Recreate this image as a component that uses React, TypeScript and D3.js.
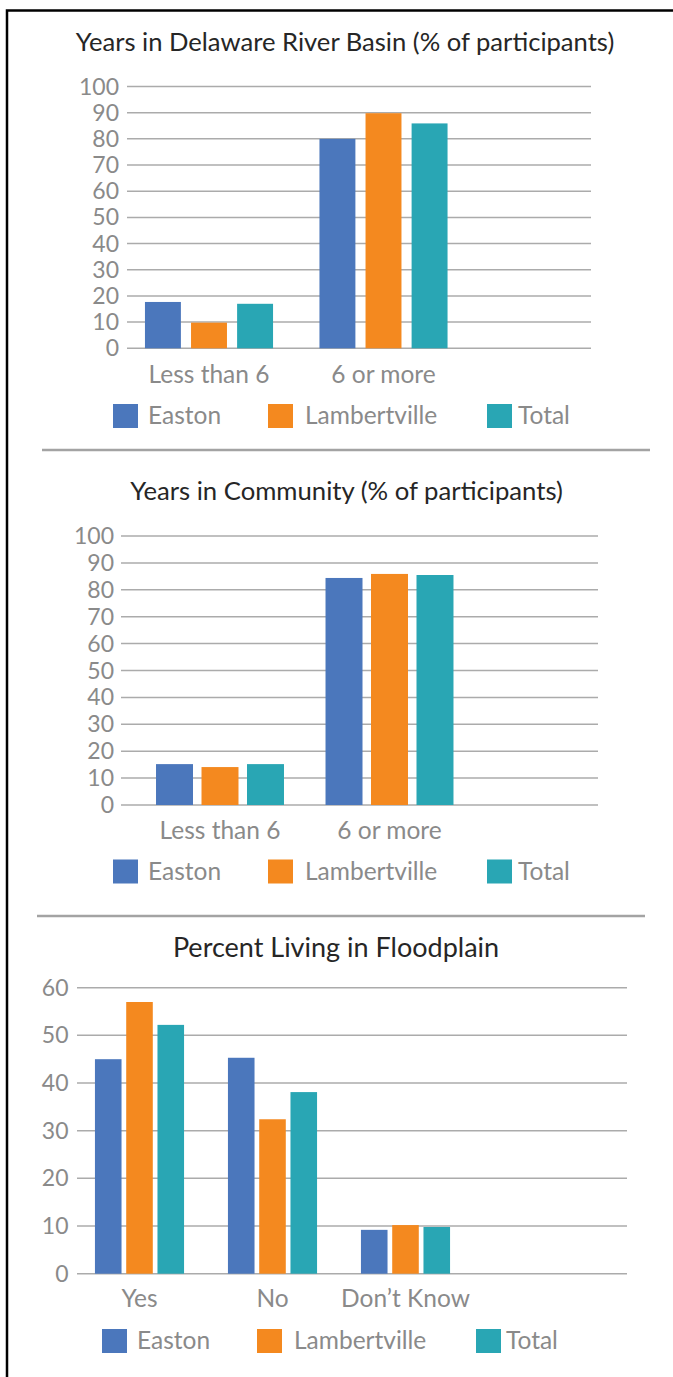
import React from "react";
import * as d3 from "d3";

const seriesNames = ["Easton", "Lambertville", "Total"];
const seriesColors = ["#4B77BC", "#F4891F", "#29A6B4"];

const basinTitle = "Years in Delaware River Basin (% of participants)";
const basinCategories = ["Less than 6", "6 or more"];
const basinEaston = [17.7, 80.0];
const basinLambertville = [9.8, 89.8];
const basinTotal = [17.0, 85.9];
const basinTicks = [0, 10, 20, 30, 40, 50, 60, 70, 80, 90, 100];

const communityTitle = "Years in Community (% of participants)";
const communityCategories = ["Less than 6", "6 or more"];
const communityEaston = [15.2, 84.4];
const communityLambertville = [14.1, 85.9];
const communityTotal = [15.2, 85.5];
const communityTicks = [0, 10, 20, 30, 40, 50, 60, 70, 80, 90, 100];

const floodTitle = "Percent Living in Floodplain";
const floodCategories = ["Yes", "No", "Don\u2019t Know"];
const floodEaston = [45.0, 45.3, 9.2];
const floodLambertville = [57.0, 32.4, 10.2];
const floodTotal = [52.2, 38.1, 9.8];
const floodTicks = [0, 10, 20, 30, 40, 50, 60];

const FONT = "Lato, 'Open Sans', sans-serif";
const GRAY = "#8a8a8a";
const GRID = "#ababab";

type Layout = {
  titleX: number;
  titleY: number;
  titleSize: number;
  yTop: number;
  yZero: number;
  gridX0: number;
  gridX1: number;
  tickRight: number;
  bandRange: [number, number];
  groupPad: number;
  barPad: number;
  labelY: number;
  legendY: number;
  legendX: number[];
  legendTextDx: number[];
};

function BarChart(props: {
  title: string;
  categories: string[];
  series: number[][];
  ticks: number[];
  layout: Layout;
}) {
  const { title, categories, series, ticks, layout: L } = props;
  const yMax = d3.max(ticks) as number;
  const y = d3.scaleLinear().domain([0, yMax]).range([L.yZero, L.yTop]);
  const x0 = d3
    .scaleBand<string>()
    .domain(categories)
    .range(L.bandRange)
    .paddingInner(L.groupPad)
    .paddingOuter(L.groupPad / 2);
  const x1 = d3
    .scaleBand<string>()
    .domain(seriesNames)
    .range([0, x0.bandwidth()])
    .paddingInner(L.barPad);

  return (
    <g>
      <text
        x={L.titleX}
        y={L.titleY}
        textAnchor="middle"
        fontFamily={FONT}
        fontSize={L.titleSize}
        fill="#262626"
      >
        {title}
      </text>
      {ticks.map((t) => (
        <g key={t}>
          <line
            x1={L.gridX0}
            x2={L.gridX1}
            y1={y(t)}
            y2={y(t)}
            stroke={GRID}
            strokeWidth={1.5}
          />
          <text
            x={L.tickRight}
            y={y(t) + 8}
            textAnchor="end"
            fontFamily={FONT}
            fontSize={23}
            fill={GRAY}
          >
            {t}
          </text>
        </g>
      ))}
      {categories.map((c, ci) => (
        <g key={c} transform={`translate(${x0(c)},0)`}>
          {seriesNames.map((s, si) => (
            <rect
              key={s}
              x={x1(s)}
              y={y(series[si][ci])}
              width={x1.bandwidth()}
              height={L.yZero - y(series[si][ci])}
              fill={seriesColors[si]}
            />
          ))}
        </g>
      ))}
      {categories.map((c) => (
        <text
          key={c}
          x={(x0(c) as number) + x0.bandwidth() / 2}
          y={L.labelY}
          textAnchor="middle"
          fontFamily={FONT}
          fontSize={24.5}
          fill={GRAY}
        >
          {c}
        </text>
      ))}
      {seriesNames.map((s, si) => (
        <g key={s}>
          <rect
            x={L.legendX[si]}
            y={L.legendY}
            width={25}
            height={24}
            fill={seriesColors[si]}
          />
          <text
            x={L.legendX[si] + L.legendTextDx[si]}
            y={L.legendY + 20}
            fontFamily={FONT}
            fontSize={24.5}
            fill={GRAY}
          >
            {s}
          </text>
        </g>
      ))}
    </g>
  );
}

const basinLayout: Layout = {
  titleX: 345,
  titleY: 51,
  titleSize: 25.6,
  yTop: 86.5,
  yZero: 348.3,
  gridX0: 127,
  gridX1: 591,
  tickRight: 119,
  bandRange: [121.75, 470.75],
  groupPad: 0.266,
  barPad: 0.22,
  labelY: 383,
  legendY: 404,
  legendX: [113, 268, 487],
  legendTextDx: [35, 37, 31],
};

const communityLayout: Layout = {
  titleX: 346.5,
  titleY: 500,
  titleSize: 25.7,
  yTop: 536,
  yZero: 805,
  gridX0: 121,
  gridX1: 598,
  tickRight: 114,
  bandRange: [135.25, 474.25],
  groupPad: 0.245,
  barPad: 0.187,
  labelY: 839,
  legendY: 859.5,
  legendX: [113, 268, 487],
  legendTextDx: [35, 37, 31],
};

const floodLayout: Layout = {
  titleX: 336,
  titleY: 957,
  titleSize: 27,
  yTop: 987.7,
  yZero: 1273.7,
  gridX0: 77,
  gridX1: 627,
  tickRight: 68.5,
  bandRange: [73, 472],
  groupPad: 0.33,
  barPad: 0.15,
  labelY: 1307,
  legendY: 1329,
  legendX: [102, 257, 476],
  legendTextDx: [35, 37, 30],
};

export default function App() {
  return (
    <svg
      width={673}
      height={1377}
      style={{ position: "absolute", left: 0, top: 0, background: "#fff" }}
    >
      <rect x={0} y={0} width={673} height={1377} fill="#fff" />
      <rect
        x={7}
        y={10.5}
        width={720}
        height={1420}
        fill="none"
        stroke="#000"
        strokeWidth={2.5}
      />
      <BarChart
        title={basinTitle}
        categories={basinCategories}
        series={[basinEaston, basinLambertville, basinTotal]}
        ticks={basinTicks}
        layout={basinLayout}
      />
      <line x1={42} x2={650} y1={450} y2={450} stroke="#a3a3a3" strokeWidth={2.5} />
      <BarChart
        title={communityTitle}
        categories={communityCategories}
        series={[communityEaston, communityLambertville, communityTotal]}
        ticks={communityTicks}
        layout={communityLayout}
      />
      <line x1={37} x2={645} y1={916} y2={916} stroke="#a3a3a3" strokeWidth={2.5} />
      <BarChart
        title={floodTitle}
        categories={floodCategories}
        series={[floodEaston, floodLambertville, floodTotal]}
        ticks={floodTicks}
        layout={floodLayout}
      />
    </svg>
  );
}
